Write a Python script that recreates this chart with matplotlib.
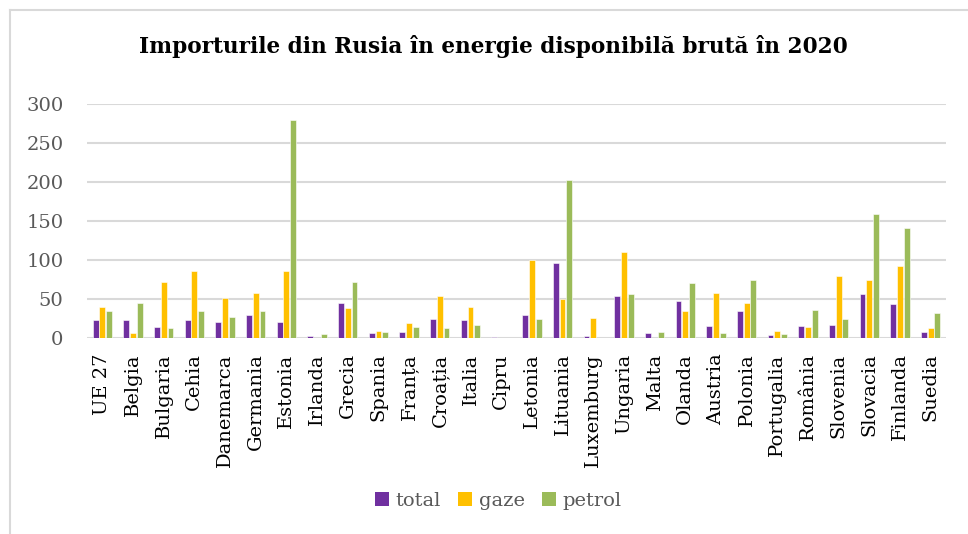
import matplotlib
matplotlib.use("Agg")
import matplotlib.pyplot as plt
import numpy as np
from matplotlib.lines import Line2D
from matplotlib.patches import Patch

categories = ["UE 27", "Belgia", "Bulgaria", "Cehia", "Danemarca", "Germania", "Estonia",
              "Irlanda", "Grecia", "Spania", "Franța", "Croația", "Italia", "Cipru",
              "Letonia", "Lituania", "Luxemburg", "Ungaria", "Malta", "Olanda", "Austria",
              "Polonia", "Portugalia", "România", "Slovenia", "Slovacia", "Finlanda", "Suedia"]
total = [23.6, 23.6, 14.6, 22.7, 20.1, 30.0, 21.0, 2.1, 45.4, 6.4, 7.7, 24.0, 23.1, 1.3,
         30.0, 95.6, 3.0, 53.6, 6.4, 48.0, 15.9, 34.3, 3.9, 15.9, 16.7, 56.6, 44.1, 7.7]
gaze = [40.3, 6.9, 72.0, 85.3, 51.4, 58.3, 85.7, 0.0, 38.1, 9.4, 19.3, 54.4, 39.9, 0.5,
        99.4, 49.7, 26.1, 109.7, 0.0, 35.1, 57.9, 44.6, 9.0, 14.6, 80.1, 74.6, 92.1, 12.9]
petrol = [35.1, 45.4, 12.4, 35.1, 27.0, 34.3, 279.4, 4.7, 72.0, 8.1, 14.6, 13.3, 16.7, 0.4,
          24.9, 202.3, 0.0, 56.6, 8.1, 69.9, 6.4, 75.0, 5.1, 36.4, 24.0, 158.6, 140.6, 31.7]
series_names = ["total", "gaze", "petrol"]
colors = ["#7030A0", "#FFC000", "#9BBB59"]
yticks = [0, 50, 100, 150, 200, 250, 300]

serif = ["DejaVu Serif"]
fig = plt.figure(figsize=(9.68, 5.34), dpi=100)
ax = fig.add_axes([87/968, 1-338/534, (946-87)/968, (338-104)/534])

x = np.arange(len(categories))
w = 0.19
step = 0.22
for i, (vals, c, name) in enumerate(zip([total, gaze, petrol], colors, series_names)):
    ax.bar(x + (i-1)*step, vals, width=w, color=c, edgecolor="white", linewidth=0.4,
           label=name, zorder=3)

ax.set_xlim(-0.5, len(categories)-0.5)
ax.set_ylim(0, 300)
ax.set_yticks(yticks)
ax.set_yticklabels([str(t) for t in yticks], fontsize=14, color="#595959", family=serif)
ax.set_xticks(x)
ax.set_xticklabels(categories, rotation=90, fontsize=14, color="black", family=serif)
ax.tick_params(axis="both", length=0)
ax.tick_params(axis="y", pad=17)
ax.tick_params(axis="x", pad=11)
ax.grid(axis="y", color="#D9D9D9", linewidth=1.5, zorder=0)
for s in ax.spines.values():
    s.set_visible(False)

fig.text(0.5 + 9/968, 1-47/534, "Importurile din Rusia în energie disponibilă brută în 2020",
         ha="center", va="center", fontsize=15.6, fontweight="bold", family=serif)

handles = [Patch(facecolor=c, edgecolor="none") for c in colors]
leg = fig.legend(handles, series_names, loc="center", bbox_to_anchor=(498.5/968, 1-501/534),
                 ncol=3, frameon=False, handlelength=0.7, handleheight=0.7,
                 columnspacing=0.9, handletextpad=0.35,
                 prop={"family": serif, "size": 14})
for t in leg.get_texts():
    t.set_color("#595959")

# chart border (left and top edges visible)
fig.add_artist(Line2D([10/968, 10/968], [0, 1-10/534], color="#D9D9D9", linewidth=1.5,
                      transform=fig.transFigure))
fig.add_artist(Line2D([10/968, 1], [1-10/534, 1-10/534], color="#D9D9D9", linewidth=1.5,
                      transform=fig.transFigure))

fig.savefig("out.png", dpi=100)
